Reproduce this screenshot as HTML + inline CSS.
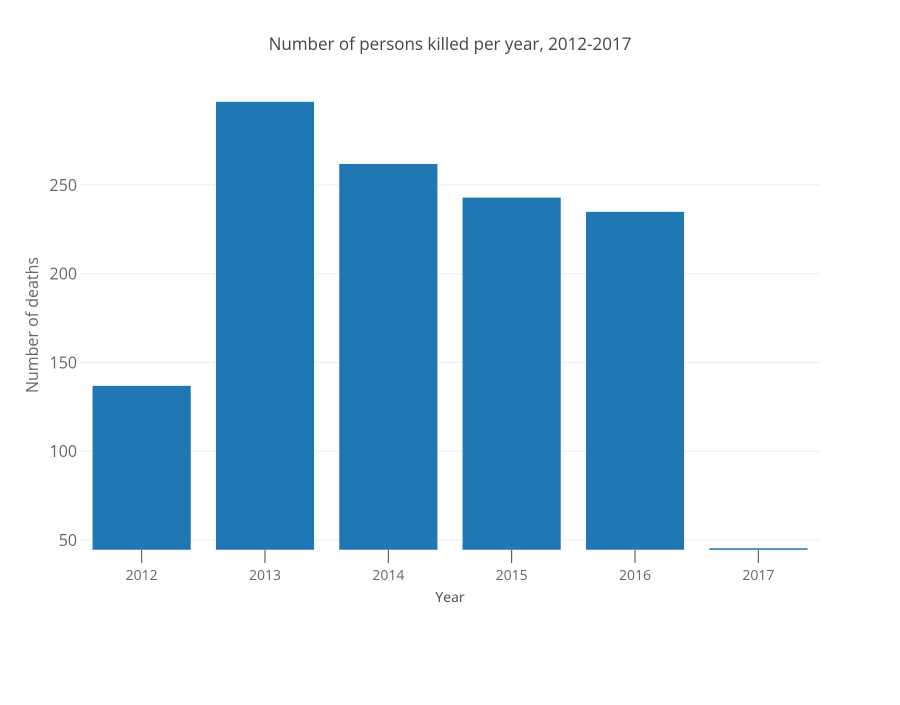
<!DOCTYPE html>
<html><head><meta charset="utf-8"><style>
body{margin:0;background:#fff;}
svg text{font-family:"Open Sans","Liberation Sans",sans-serif;}
</style></head><body>
<svg id="chart" width="900" height="700">
<text x="450" y="50" text-anchor="middle" font-size="17" fill="#444">Number of persons killed per year, 2012-2017</text>
<g id="grid"></g><g id="bars"></g><g id="xaxis"></g><g id="yaxis"></g>
<text x="450" y="602" text-anchor="middle" font-size="14" fill="#444">Year</text>
<text transform="translate(38,325) rotate(-90)" text-anchor="middle" font-size="16" fill="#666">Number of deaths</text>
</svg>
<script>
const categories=["2012","2013","2014","2015","2016","2017"];
const values=[137,297,262,243,235,45.5];
const yTicks=[50,100,150,200,250];
const ns="http://www.w3.org/2000/svg";
const x0=80,x1=820,yMin=44.37,yMax=297.3,py0=550,py1=101;
const step=(x1-x0)/categories.length;
function xc(i){return x0+step*(i+0.5);}
function y(v){return py0-(v-yMin)/(yMax-yMin)*(py0-py1);}
function mk(t,a,p){const e=document.createElementNS(ns,t);for(const k in a)e.setAttribute(k,a[k]);p.appendChild(e);return e;}
const grid=document.getElementById('grid'),yax=document.getElementById('yaxis');
yTicks.forEach(t=>{
 const l=mk('line',{x1:x0,x2:x1,y1:y(t),y2:y(t),stroke:'#eee','stroke-width':1},grid);
 
 
 const tx=mk('text',{x:77,y:y(t)+6,'text-anchor':'end','font-size':16,fill:'#666'},yax);
 tx.textContent=t;
 
 
});
const bars=document.getElementById('bars'),xax=document.getElementById('xaxis');
categories.forEach((c,i)=>{
 const bw=step*0.8;
 const top=y(values[i]);
 const r=mk('rect',{x:xc(i)-bw/2,y:top,width:bw,height:Math.max(py0-top,0),fill:'#1f77b4',stroke:'#fff','stroke-width':0.5},bars);
 
 
 const tk=mk('line',{x1:xc(i),x2:xc(i),y1:py0,y2:py0+13,stroke:'#444','stroke-width':1},xax);
 
 
 const tx=mk('text',{x:xc(i),y:580,'text-anchor':'middle','font-size':14,fill:'#666'},xax);
 tx.textContent=c;
 
 
});
</script>
</body></html>
